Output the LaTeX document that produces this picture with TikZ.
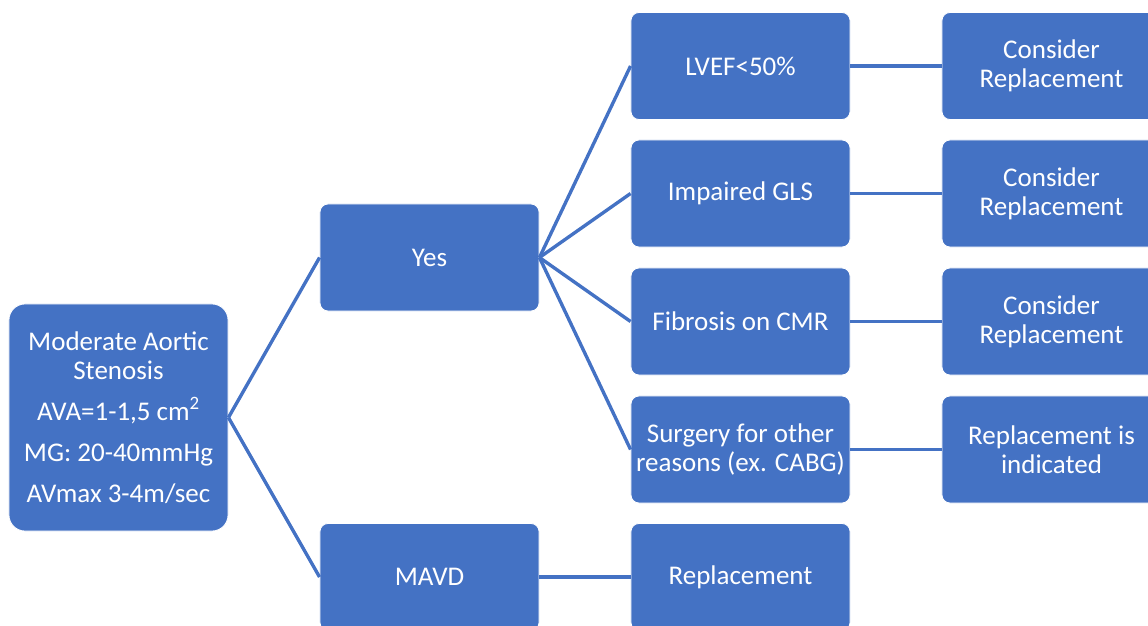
\documentclass[tikz,border=0pt]{standalone}
\usepackage{fontspec}
\setmainfont{Carlito}
\usepackage{xcolor}
\usetikzlibrary{positioning}

\begin{document}
\begin{tikzpicture}[
		x=0.025cm,y=-0.025cm,
		line cap=butt,line join=round,
		font=\fontsize{19.2}{20.8}\selectfont
		]
		% ---- colors
		\definecolor{boxBlue}{RGB}{68,114,196}
		\definecolor{linkBlue}{RGB}{68,114,196}
		
		% ---- parameters (pixel grid)
		\def\xA{118.5}
		\def\xB{429.5}
		\def\xC{740.5}
		\def\xD{1051.5}
		
		% row centers
		\def\yRone{66}
		\def\yRtwo{193.5}
		\def\yRthree{321.5}
		\def\yRfour{449.5}
		\def\yRfive{577}
		
		\tikzset{
			stepbox/.style={fill=boxBlue, draw=white, line width=0.6pt, rounded corners=0.2cm,
				text=white, align=center, minimum width=5.475cm, minimum height=2.675cm, inner sep=2pt},
			link/.style={linkBlue, line width=2.4pt}
		}
		
		% ---- page frame
		\useasboundingbox (0,0) rectangle (1148,625);
		\clip (0,0) rectangle (1148,625);
		
		% ---- root
		\node[stepbox, rounded corners=0.4cm, minimum height=5.675cm] (AS) at (\xA,417.5)
		{Moderate Aortic\\Stenosis\\[0.29cm]AVA=1-1,5 cm\textsuperscript{2}\\[0.29cm]MG: 20-40mmHg\\[0.29cm]AVmax 3-4m/sec};
		
		% ---- second column
		\node[stepbox] (Yes) at (\xB,257.5) {Yes};
		\node[stepbox] (MAVD) at (\xB,\yRfive) {MAVD};
		
		% ---- third column
		\node[stepbox] (LVEF) at (\xC,\yRone) {LVEF<50\%};
		\node[stepbox] (GLS) at (\xC,\yRtwo) {Impaired GLS};
		\node[stepbox] (CMR) at (\xC,\yRthree) {Fibrosis on CMR};
		\node[stepbox] (Surg) at (\xC,\yRfour) {Surgery for other\\reasons (ex. CABG)};
		\node[stepbox] (Repl) at (\xC,\yRfive) {Replacement};
		
		% ---- fourth column
		\node[stepbox] (ConsA) at (\xD,\yRone) {Consider\\Replacement};
		\node[stepbox] (ConsB) at (\xD,\yRtwo) {Consider\\Replacement};
		\node[stepbox] (ConsC) at (\xD,\yRthree) {Consider\\Replacement};
		\node[stepbox] (Ind) at (\xD,\yRfour) {Replacement is\\indicated};
		
		% ---- links
		\draw[link] (AS.east) -- (Yes.west);
		\draw[link] (AS.east) -- (MAVD.west);
		
		\draw[link] (Yes.east) -- (LVEF.west);
		\draw[link] (Yes.east) -- (GLS.west);
		\draw[link] (Yes.east) -- (CMR.west);
		\draw[link] (Yes.east) -- (Surg.west);
		
		\draw[link] (MAVD.east) -- (Repl.west);
		
		\draw[link] (LVEF.east) -- (ConsA.west);
		\draw[link] (GLS.east) -- (ConsB.west);
		\draw[link] (CMR.east) -- (ConsC.west);
		\draw[link] (Surg.east) -- (Ind.west);
		
	\end{tikzpicture}
\end{document}
